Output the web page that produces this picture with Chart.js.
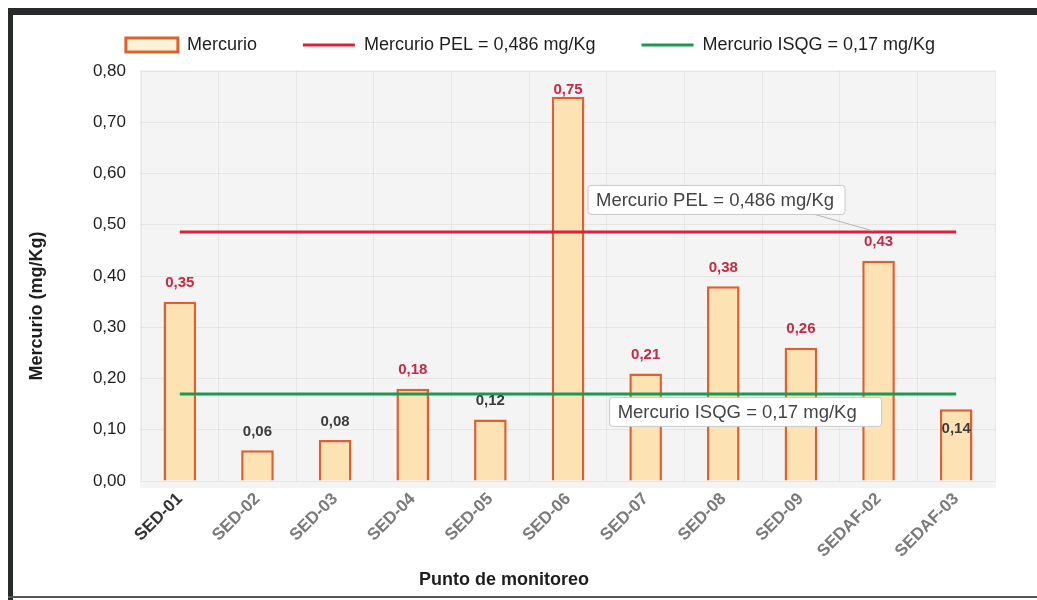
<!DOCTYPE html>
<html>
<head>
<meta charset="utf-8">
<script src="https://cdn.jsdelivr.net/npm/chart.js@4.4.0/dist/chart.umd.min.js"></script>
<style>
  html, body { margin: 0; padding: 0; background: #fff; }
  #wrap { position: relative; width: 1037px; height: 600px; overflow: hidden; }
  #chart { position: absolute; left: 0; top: 0; }
  .frame-top { position: absolute; left: 8px; top: 8px; width: 1029px; height: 7px; background: #262a2a; }
  .frame-left { position: absolute; left: 8px; top: 8px; width: 5px; height: 592px; background: #262a2a; }
  .frame-bottom { position: absolute; left: 8px; top: 596px; width: 1029px; height: 2px; background: #555; }
</style>
</head>
<body>
<div id="wrap">
  <canvas id="chart" width="1037" height="600"></canvas>
  <div class="frame-top"></div>
  <div class="frame-left"></div>
  <div class="frame-bottom"></div>
</div>
<script>
// Puntos de monitoreo
const puntos = ['SED-01', 'SED-02', 'SED-03', 'SED-04', 'SED-05', 'SED-06',
                'SED-07', 'SED-08', 'SED-09', 'SEDAF-02', 'SEDAF-03'];

// Mercurio (mg/Kg)
const mercurio = [0.35, 0.06, 0.08, 0.18, 0.12, 0.75, 0.21, 0.38, 0.26, 0.43, 0.14];

// Reference levels
const PEL = 0.486;
const ISQG = 0.17;
const pelLine = puntos.map(() => PEL);
const isqgLine = puntos.map(() => ISQG);

const yTicks = [0, 0.1, 0.2, 0.3, 0.4, 0.5, 0.6, 0.7, 0.8];

const fmt = v => v.toFixed(2).replace('.', ',');

// Gray plot background
const plotBackground = {
    id: 'plotBackground',
    beforeDraw(chart) {
        const { ctx, chartArea: a } = chart;
        ctx.save();
        ctx.fillStyle = '#f4f4f4';
        ctx.fillRect(a.left - 1, a.top - 1, a.right - a.left + 2, a.bottom - a.top + 8);
        ctx.restore();
    }
};

// Value labels above the bars
const valueLabels = {
    id: 'valueLabels',
    afterDatasetsDraw(chart) {
        const { ctx, chartArea } = chart;
        const meta = chart.getDatasetMeta(0);
        ctx.save();
        ctx.font = 'bold 15px "Liberation Sans", Arial, sans-serif';
        ctx.textAlign = 'center';
        ctx.textBaseline = 'bottom';
        meta.data.forEach((bar, i) => {
            const v = mercurio[i];
            ctx.fillStyle = v > ISQG ? '#c42a45' : '#3c3c3c';
            // keep labels inside the plot; last one sits inside the bar in the original
            let y = Math.max(bar.y - 11, chartArea.top + 26);
            if (i === mercurio.length - 1) y = bar.y + 27;
            ctx.fillText(fmt(v), bar.x, y);
        });
        ctx.restore();
    }
};

// Callout boxes for the reference lines + axis titles
const callouts = {
    id: 'callouts',
    afterDraw(chart) {
        const { ctx, scales: { x, y } } = chart;
        ctx.save();
        ctx.font = '18.5px "Liberation Sans", Arial, sans-serif';
        ctx.textBaseline = 'middle';

        function box(text, left, cy, w) {
            const h = 29;
            ctx.fillStyle = '#ffffff';
            ctx.strokeStyle = '#c8c8c8';
            ctx.lineWidth = 1;
            ctx.beginPath();
            ctx.roundRect(left, cy - h / 2, w, h, 3);
            ctx.fill();
            ctx.stroke();
            ctx.fillStyle = '#444';
            ctx.textAlign = 'left';
            ctx.fillText(text, left + 8, cy + 1);
        }

        const pelY = y.getPixelForValue(PEL);
        const pelLeft = x.getPixelForValue(5) + 20;
        // leader line
        ctx.strokeStyle = '#b4b4b4';
        ctx.lineWidth = 1;
        ctx.beginPath();
        ctx.moveTo(pelLeft + 225, pelY - 18);
        ctx.lineTo(pelLeft + 285, pelY - 1);
        ctx.stroke();
        box('Mercurio PEL = 0,486 mg/Kg', pelLeft, pelY - 32, 257);

        const isqgY = y.getPixelForValue(ISQG);
        box('Mercurio ISQG = 0,17 mg/Kg', x.getPixelForValue(6) - 36, isqgY + 18, 272);

        // axis titles
        ctx.fillStyle = '#1e1e1e';
        ctx.textAlign = 'center';
        ctx.font = 'bold 18px "Liberation Sans", Arial, sans-serif';
        ctx.fillText('Punto de monitoreo', 504, 580);

        ctx.translate(37, 306);
        ctx.rotate(-Math.PI / 2);
        ctx.fillText('Mercurio (mg/Kg)', 0, 0);
        ctx.restore();
    }
};

const ctx = document.getElementById('chart').getContext('2d');

new Chart(ctx, {
    data: {
        labels: puntos,
        datasets: [
            {
                type: 'bar',
                label: 'Mercurio',
                data: mercurio,
                backgroundColor: '#fde2b4',
                borderColor: '#e25f2c',
                borderWidth: 2.5,
                pointStyle: 'rect',
                categoryPercentage: 1,
                barPercentage: 0.42,
                order: 2
            },
            {
                type: 'line',
                label: 'Mercurio PEL = 0,486 mg/Kg',
                data: pelLine,
                borderColor: '#d9203c',
                backgroundColor: '#d9203c',
                borderWidth: 3,
                pointRadius: 0,
                pointStyle: 'line',
                order: 1
            },
            {
                type: 'line',
                label: 'Mercurio ISQG = 0,17 mg/Kg',
                data: isqgLine,
                borderColor: '#1a9950',
                backgroundColor: '#1a9950',
                borderWidth: 3,
                pointRadius: 0,
                pointStyle: 'line',
                order: 1
            }
        ]
    },
    options: {
        responsive: false,
        animation: false,
        layout: { padding: { left: 24, right: 0, top: 17, bottom: 0 } },
        plugins: {
            legend: {
                display: true,
                position: 'top',
                labels: {
                    usePointStyle: true,
                    pointStyleWidth: 52,
                    boxHeight: 14,
                    padding: 19,
                    color: '#1e1e1e',
                    font: { family: '"Liberation Sans", Arial', size: 18 },
                    generateLabels(chart) {
                        const items = Chart.defaults.plugins.legend.labels.generateLabels(chart);
                        items.sort((a, b) => a.datasetIndex - b.datasetIndex);
                        items.forEach((it, i) => {
                            if (i === 0) {
                                it.fillStyle = '#fbf3d8';
                                it.lineWidth = 3;
                            }
                            if (i < items.length - 1) it.text += '\u2003\u2002';
                        });
                        return items;
                    }
                }
            },
            tooltip: { enabled: false }
        },
        scales: {
            x: {
                offset: true,
                grid: { display: true, color: 'rgba(0,0,0,0.05)', offset: true, drawTicks: false },
                border: { display: false },
                ticks: {
                    maxRotation: 45,
                    minRotation: 45,
                    padding: 8,
                    color: c => c.index === 0 ? '#333' : '#7a7a7a',
                    font: { family: '"Liberation Sans", Arial', size: 17, weight: 'bold' }
                },
                afterFit(scale) { scale.height = 119; }
            },
            // empty top axis, only leaves a gap under the legend
            x2: {
                position: 'top',
                display: true,
                grid: { display: false },
                border: { display: false },
                ticks: { display: false },
                afterFit(scale) { scale.height = 7; }
            },
            y: {
                min: 0,
                max: 0.8,
                afterBuildTicks(scale) { scale.ticks = yTicks.map(v => ({ value: v })); },
                grid: { color: 'rgba(0,0,0,0.06)', drawTicks: false },
                border: { display: false },
                ticks: {
                    padding: 15,
                    color: '#1e1e1e',
                    font: { family: '"Liberation Sans", Arial', size: 17 },
                    callback: v => fmt(v)
                },
                afterFit(scale) { scale.width = 117; }
            },
            // empty right axis, only keeps space on the right of the plot
            y2: {
                position: 'right',
                display: true,
                min: 0,
                max: 0.8,
                grid: { display: false },
                border: { display: false },
                ticks: { display: false },
                afterFit(scale) { scale.width = 42; }
            }
        }
    },
    plugins: [plotBackground, valueLabels, callouts]
});
</script>
</body>
</html>
